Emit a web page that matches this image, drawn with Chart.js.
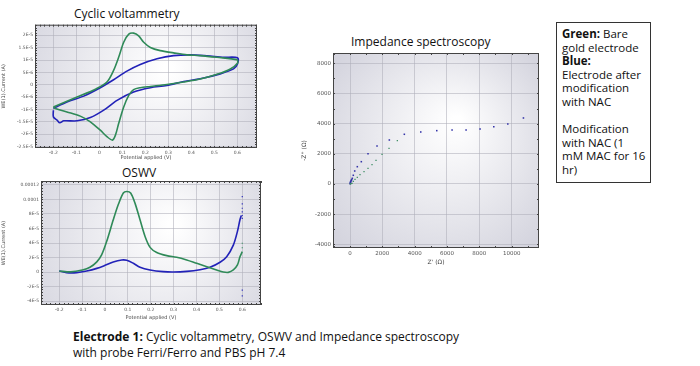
<!DOCTYPE html>
<html>
<head>
<meta charset="utf-8">
<script src="https://cdn.jsdelivr.net/npm/chart.js@4.4.1/dist/chart.umd.min.js"></script>
<style>
  body { margin: 0; background: #fff; width: 700px; height: 366px; position: relative; overflow: hidden; font-family: "Open Sans", "Noto Sans", sans-serif; color: #111; }
  canvas { position: absolute; }
  .title { position: absolute; font-size: 12px; white-space: nowrap; }
  #note { position: absolute; left: 556px; top: 22px; width: 95px; height: 161px; border: 1px solid #333; box-sizing: border-box; font-size: 11.5px; line-height: 13.6px; padding: 4px 0 0 5px; white-space: nowrap; }
  #caption { position: absolute; left: 73px; top: 329px; font-size: 12px; line-height: 16px; white-space: nowrap; }
</style>
</head>
<body>
<div class="title" style="left:74px;top:5px;">Cyclic voltammetry</div>
<div class="title" style="left:122px;top:164px;">OSWV</div>
<div class="title" style="left:351px;top:33px;">Impedance spectroscopy</div>
<canvas id="cv" width="262" height="142" style="left:0;top:20px;"></canvas>
<canvas id="oswv" width="265" height="146" style="left:0;top:176px;"></canvas>
<canvas id="imp" width="245" height="222" style="left:300px;top:45px;"></canvas>
<div id="note"><b>Green:</b> Bare<br>gold electrode<br><b>Blue:</b><br>Electrode after<br>modification<br>with NAC<br><br>Modification<br>with NAC (1<br>mM MAC for 16<br>hr)</div>
<div id="caption"><b>Electrode 1:</b> Cyclic voltammetry, OSWV and Impedance spectroscopy<br>with probe Ferri/Ferro and PBS pH 7.4</div>
<script>
// colours
const green = '#2f8a58';
const blue = '#2222b8';

// Cyclic voltammetry (current in uA, potential in V)
const cvGreenX = [-0.2, -0.097, -0.013, 0.033, 0.062, 0.084, 0.106, 0.128, 0.149, 0.171, 0.193, 0.222, 0.265, 0.323, 0.381, 0.439, 0.512, 0.599, 0.601, 0.57, 0.512, 0.439, 0.367, 0.294, 0.222, 0.178, 0.149, 0.128, 0.106, 0.084, 0.07, 0.057, 0.033, 0.004, -0.039, -0.083, -0.141, -0.191, -0.2];
const cvGreenY = [-9.0, -5.0, -1.6, 1.1, 5.8, 11.1, 17.2, 20.5, 20.9, 19.8, 17.2, 15.1, 13.8, 12.9, 12.1, 11.8, 11.1, 10.1, 8.7, 6.4, 4.2, 2.3, 1.1, 0.1, -0.7, -1.2, -2.0, -4.3, -9.0, -15.7, -20.4, -22.4, -21.0, -18.4, -15.0, -12.7, -11.0, -9.6, -9.0];
const cvBlueX = [-0.2, -0.141, -0.068, 0.004, 0.062, 0.12, 0.178, 0.251, 0.323, 0.396, 0.468, 0.541, 0.601, 0.601, 0.584, 0.526, 0.439, 0.367, 0.294, 0.222, 0.149, 0.077, 0.019, -0.039, -0.097, -0.155, -0.172, -0.184, -0.2, -0.2];
const cvBlueY = [-9.6, -7.0, -4.6, -1.2, 2.0, 5.5, 8.2, 10.5, 11.8, 12.1, 11.7, 11.1, 10.9, 8.4, 6.4, 4.4, 2.4, 1.3, -0.3, -1.2, -2.9, -6.3, -10.3, -13.3, -14.6, -14.6, -15.4, -14.3, -13.0, -10.3];
const cvXTicks = [-0.2, -0.1, 0, 0.1, 0.2, 0.3, 0.4, 0.5, 0.6];
const cvYTicks = [-25, -20, -15, -10, -5, 0, 5, 10, 15, 20];
const cvYLabels = ['-2.5E-5', '-2E-5', '-1.5E-5', '-1E-5', '-5E-6', '0', '5E-6', '1E-5', '1.5E-5', '2E-5'];

// OSWV (current in uA)
const oswvGreenX = [-0.2, -0.15, -0.099, -0.066, -0.036, -0.015, 0.007, 0.036, 0.058, 0.08, 0.095, 0.112, 0.131, 0.153, 0.175, 0.197, 0.226, 0.27, 0.313, 0.357, 0.401, 0.445, 0.488, 0.517, 0.539, 0.561, 0.579, 0.59, 0.6];
const oswvGreenY = [1.4, 0.2, 2.8, 6.5, 14, 23.6, 42, 72, 93, 109, 111, 109, 95, 72, 49, 34, 27, 22.6, 20.3, 16.6, 12, 7.4, 2.8, 0, -0.5, 2.8, 9.7, 21, 28];
const oswvGreenDotsX = [0.6, 0.6];
const oswvGreenDotsY = [33.5, 39.6];
const oswvBlueX = [-0.2, -0.168, -0.124, -0.08, -0.036, 0, 0.036, 0.073, 0.095, 0.124, 0.153, 0.197, 0.255, 0.299, 0.357, 0.415, 0.459, 0.503, 0.532, 0.561, 0.579, 0.59, 0.596];
const oswvBlueY = [1.4, -0.9, -0.9, 1.4, 5, 9.2, 13.9, 16.6, 16.2, 12, 6.5, 2.8, 0.5, 0, 0.9, 3.2, 6.5, 13.4, 21, 37, 56, 72, 78];
const oswvBlueDotsX = [0.6, 0.6, 0.6, 0.6, 0.6, 0.6, 0.6, 0.6];
const oswvBlueDotsY = [74, 78, 83, 88, 94, 104, -25, -33];
const oswvXTicks = [-0.2, -0.1, 0, 0.1, 0.2, 0.3, 0.4, 0.5, 0.6];
const oswvYTicks = [-40, -20, 0, 20, 40, 60, 80, 100, 120];
const oswvYLabels = ['-4E-5', '-2E-5', '0', '2E-5', '4E-5', '6E-5', '8E-5', '0.0001', '0.00012'];

// Impedance (ohm)
const impBlueRe = [10, 20, 31, 40, 62, 80, 110, 142, 204, 291, 452, 700, 1114, 1671, 2433, 3361, 4376, 5367, 6314, 7181, 8047, 8895, 9762, 10729];
const impBlueIm = [20, 100, 66, 150, 199, 250, 300, 378, 577, 862, 1147, 1478, 2009, 2519, 2917, 3295, 3448, 3536, 3580, 3580, 3647, 3801, 3978, 4376];
const impGreenRe = [20, 60, 124, 204, 310, 452, 619, 867, 1114, 1362, 1609, 1981, 2414, 2928];
const impGreenIm = [10, 25, 46, 179, 312, 444, 617, 816, 1041, 1280, 1571, 1969, 2367, 2871];
const impXTicks = [0, 2000, 4000, 6000, 8000, 10000];
const impYTicks = [-4000, -2000, 0, 2000, 4000, 6000, 8000];

function pts(xs, ys) {
  return xs.map((x, i) => ({ x: x, y: ys[i] }));
}

// shaded plot background and boxed frame with small inner ticks
const frame = {
  id: 'frame',
  beforeDraw(chart) {
    const a = chart.chartArea, c = chart.ctx;
    const g = c.createRadialGradient((a.left + a.right) / 2 + a.width * 0.1, a.top + a.height * 0.35, 5,
      (a.left + a.right) / 2, (a.top + a.bottom) / 2, a.width * 0.65);
    g.addColorStop(0, '#ffffff');
    g.addColorStop(1, '#d4d4de');
    c.save();
    c.fillStyle = g;
    c.fillRect(a.left, a.top, a.width, a.height);
    c.restore();
  },
  afterDraw(chart, args, opts) {
    const a = chart.chartArea, c = chart.ctx;
    c.save();
    c.strokeStyle = '#444';
    c.lineWidth = 1;
    c.strokeRect(a.left + 0.5, a.top + 0.5, a.width - 1, a.height - 1);
    ['x', 'y'].forEach(k => {
      const s = chart.scales[k];
      const step = (s.ticks[1].value - s.ticks[0].value) / opts.minor;
      const start = Math.ceil(s.min / step);
      for (let i = start; i * step <= s.max; i++) {
        const p = Math.round(s.getPixelForValue(i * step)) + 0.5;
        c.beginPath();
        if (k === 'x') {
          c.moveTo(p, a.top); c.lineTo(p, a.top + 2);
          c.moveTo(p, a.bottom); c.lineTo(p, a.bottom - 2);
        } else {
          c.moveTo(a.left, p); c.lineTo(a.left + 2, p);
          c.moveTo(a.right, p); c.lineTo(a.right - 2, p);
        }
        c.stroke();
      }
    });
    c.restore();
  }
};

function axis(min, max, ticks, labels, title, size, fontSize) {
  return {
    type: 'linear', min: min, max: max,
    afterBuildTicks: s => { s.ticks = ticks.map(v => ({ value: v })); },
    afterFit: s => { if (s.isHorizontal()) s.height = size; else s.width = size; },
    ticks: {
      font: { size: fontSize, family: 'DejaVu Sans' }, color: '#555', padding: 2, maxRotation: 0, autoSkip: false,
      callback: (v, i) => labels ? labels[i] : String(v)
    },
    grid: { color: 'rgba(175,175,185,0.7)', lineWidth: 0.8, drawTicks: false },
    border: { display: false },
    title: { display: true, text: title, font: { size: fontSize + 0.5, family: 'DejaVu Sans' }, color: '#444', padding: 1 }
  };
}

function baseOptions(pad, scales, minor) {
  return {
    responsive: false, animation: false, devicePixelRatio: 1,
    layout: { padding: pad },
    plugins: { legend: { display: false }, tooltip: { enabled: false }, frame: { minor: minor } },
    scales: scales
  };
}

function curve(data, color) {
  return { data: data, borderColor: color, borderWidth: 1.6, showLine: true, pointRadius: 0, tension: 0.3 };
}
function dots(data, color, r) {
  return { data: data, backgroundColor: color, borderColor: color, borderWidth: 0, pointStyle: 'rect', pointRadius: r, showLine: false };
}

new Chart(document.getElementById('cv'), {
  type: 'scatter',
  data: { datasets: [curve(pts(cvGreenX, cvGreenY), green), curve(pts(cvBlueX, cvBlueY), blue)] },
  options: baseOptions({ top: 4, right: 5, left: 0, bottom: 0 }, {
    x: axis(-0.28, 0.686, cvXTicks, null, 'Potential applied (V)', 14, 4.5),
    y: axis(-25.6, 24.3, cvYTicks, cvYLabels, 'WE(1).Current (A)', 35, 4.5)
  }, 5),
  plugins: [frame]
});

new Chart(document.getElementById('oswv'), {
  type: 'scatter',
  data: { datasets: [
    curve(pts(oswvGreenX, oswvGreenY), green), dots(pts(oswvGreenDotsX, oswvGreenDotsY), green, 0.8),
    curve(pts(oswvBlueX, oswvBlueY), blue), dots(pts(oswvBlueDotsX, oswvBlueDotsY), blue, 0.8)
  ] },
  options: baseOptions({ top: 5, right: 4, left: 0, bottom: 0 }, {
    x: axis(-0.28, 0.682, oswvXTicks, null, 'Potential applied (V)', 17, 4.5),
    y: axis(-45.5, 125.5, oswvYTicks, oswvYLabels, 'WE(1).Current (A)', 41, 4.5)
  }, 5),
  plugins: [frame]
});

new Chart(document.getElementById('imp'), {
  type: 'scatter',
  data: { datasets: [dots(pts(impGreenRe, impGreenIm), '#3b8c62', 0.9), dots(pts(impBlueRe, impBlueIm), '#3333a8', 1.1)] },
  options: baseOptions({ top: 8, right: 6, left: 0, bottom: 0 }, {
    x: axis(-1052, 11692, impXTicks, null, "Z' (\u03a9)", 19, 5.5),
    y: axis(-4243, 8684, impYTicks, null, "-Z'' (\u03a9)", 33, 5.5)
  }, 2),
  plugins: [frame]
});
</script>
</body>
</html>
